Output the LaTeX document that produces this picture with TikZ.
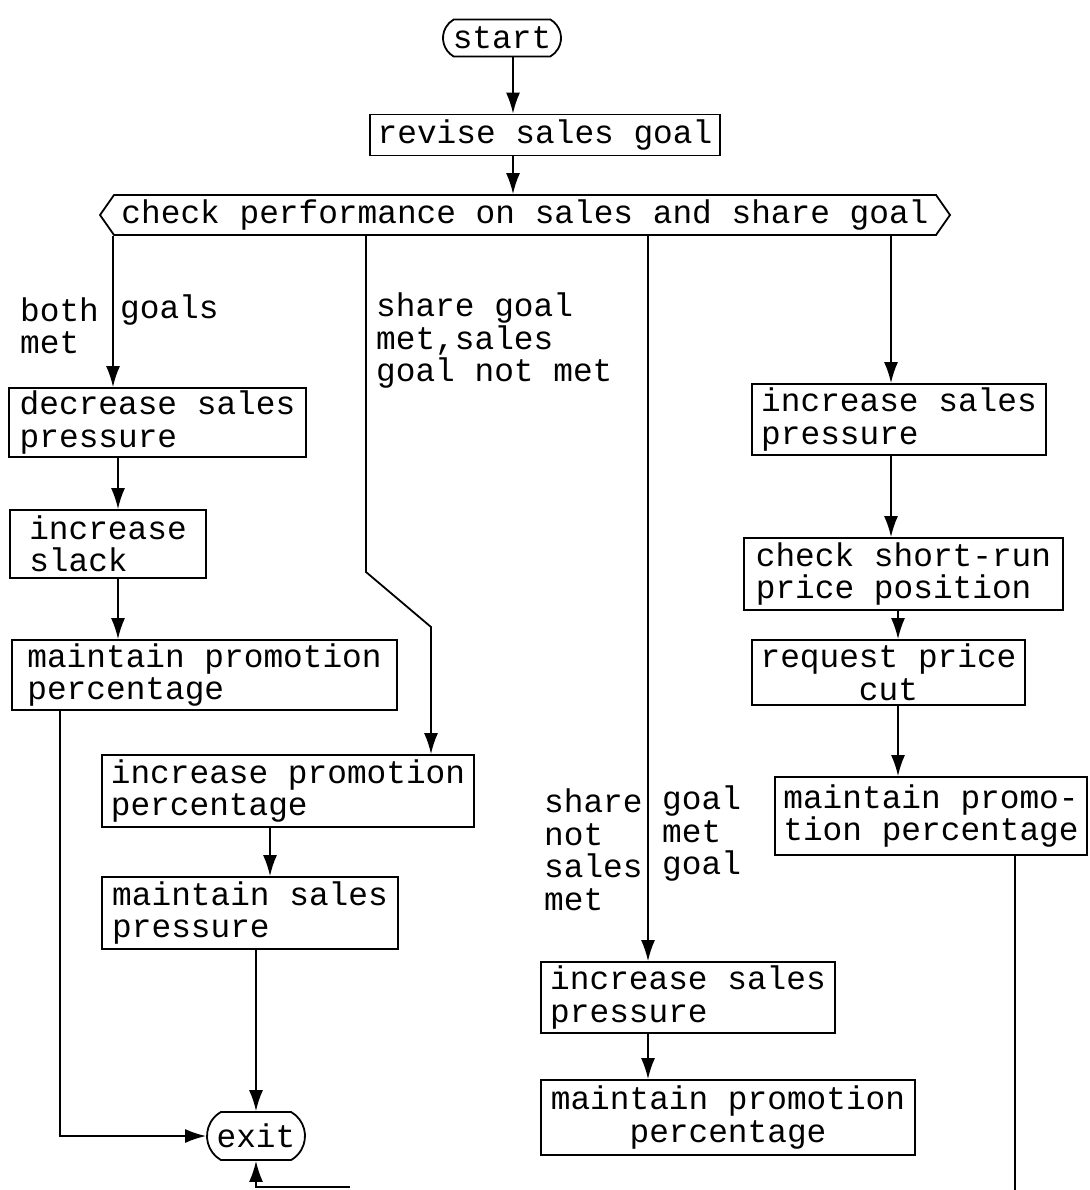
\documentclass[tikz,border=0pt]{standalone}
\usepackage{fontspec}
\setmonofont{Liberation Mono}
\usetikzlibrary{shapes.misc, shapes.symbols, arrows.meta, positioning}

\begin{document}
\begin{tikzpicture}[x=1pt, y=-1pt,
  txt/.style={font=\ttfamily\fontsize{32.8}{32.5}\selectfont},
  box/.style={txt, draw, line width=1.8pt, align=left, inner xsep=8pt, inner ysep=0pt},
  term/.style={txt, draw, line width=1.8pt, rounded rectangle, rounded rectangle arc length=120, inner xsep=6pt, inner ysep=2pt},
  test/.style={txt, draw, line width=1.8pt, signal, signal to=west and east, signal pointer angle=110, inner xsep=4pt, inner ysep=2pt},
  lbl/.style={txt, align=left, inner sep=0pt},
  arr/.style={line width=1.8pt, -{Latex[length=21pt,width=14pt]}},
  wire/.style={line width=1.8pt}]
\useasboundingbox (0,0) rectangle (1089,1190);

% top
\node[term, minimum width=130, minimum height=37] (start) at (502,38) {start};
\node[box, minimum width=342, minimum height=41, align=center] (revise) at (545,135) {revise sales goal};
\node[test, minimum width=850, minimum height=40] (check) at (525,215) {check performance on sales and share goal};

% left branch
\node[box, minimum width=297, minimum height=69] (dec) at (157.5,422.5) {decrease sales\\pressure};
\node[box, minimum width=196, minimum height=68] (slack) at (108,544) {increase\\slack};
\node[box, minimum width=385, minimum height=70] (keepL) at (204.5,675) {maintain promotion\\percentage};
\node[box, minimum width=372, minimum height=72] (incpromo) at (288,791) {increase promotion\\percentage};
\node[box, minimum width=296, minimum height=72] (keepsp) at (250,913) {maintain sales\\pressure};
\node[term, minimum width=110, minimum height=48] (exit) at (256,1136) {exit};

% middle branch
\node[box, minimum width=294, minimum height=71] (incM) at (688,997.5) {increase sales\\pressure};
\node[box, minimum width=374, minimum height=75, align=center] (keepM) at (728,1117.5) {maintain promotion\\percentage};

% right branch
\node[box, minimum width=294, minimum height=71] (incR) at (899,419.5) {increase sales\\pressure};
\node[box, minimum width=319, minimum height=72] (checkpr) at (903.5,574) {check short-run\\price position};
\node[box, minimum width=273, minimum height=65, align=center] (cut) at (888.5,672.5) {request price\\cut};
\node[box, minimum width=312, minimum height=78] (keepR) at (931,816) {maintain promo-\\tion percentage};

% branch labels
\node[lbl, anchor=west] (bothL) at (20,326) {both\\met};
\node[lbl, anchor=west] (bothR) at (120,310) {goals};
\node[lbl, anchor=west] (shareB) at (376,341) {share goal\\met,sales\\goal not met};
\node[lbl, anchor=west] (shareL) at (544,850) {share\\not\\sales\\met};
\node[lbl, anchor=west] (shareR) at (662,834) {goal\\met\\goal};

\coordinate (colS) at (513,0);
\coordinate (colA) at (113,0);
\coordinate (colA2) at (118,0);
\coordinate (colL) at (60,0);
\coordinate (colB) at (366,0);
\coordinate (bendA) at (366,572);
\coordinate (bendB) at (431,627);
\coordinate (colB2) at (270,0);
\coordinate (colC) at (648,0);
\coordinate (colD) at (891,0);
\coordinate (colD2) at (898,0);
\coordinate (inlet) at (350,1187);
\coordinate (outlet) at (1015,1190);

\draw[arr] (start.south -| colS) -- (revise.north -| colS);
\draw[arr] (revise.south -| colS) -- (check.north -| colS);
% both goals met
\draw[arr] (check.south -| colA) -- (dec.north -| colA);
\draw[arr] (dec.south -| colA2) -- (slack.north -| colA2);
\draw[arr] (slack.south -| colA2) -- (keepL.north -| colA2);
\draw[arr] (keepL.south -| colL) |- (exit.west);
% share met, sales not met
\draw[arr] (check.south -| colB) -- (bendA) -- (bendB) -- (incpromo.north -| bendB);
\draw[arr] (incpromo.south -| colB2) -- (keepsp.north -| colB2);
\draw[arr] (keepsp.south -| exit.north) -- (exit.north);
\draw[arr] (inlet) -| (exit.south);
% sales met, share not met
\draw[arr] (check.south -| colC) -- (incM.north -| colC);
\draw[arr] (incM.south -| colC) -- (keepM.north -| colC);
% neither met
\draw[arr] (check.south -| colD) -- (incR.north -| colD);
\draw[arr] (incR.south -| colD) -- (checkpr.north -| colD);
\draw[arr] (checkpr.south -| colD2) -- (cut.north -| colD2);
\draw[arr] (cut.south -| colD2) -- (keepR.north -| colD2);
\draw[wire] (keepR.south -| outlet) -- (outlet);
\end{tikzpicture}
\end{document}
